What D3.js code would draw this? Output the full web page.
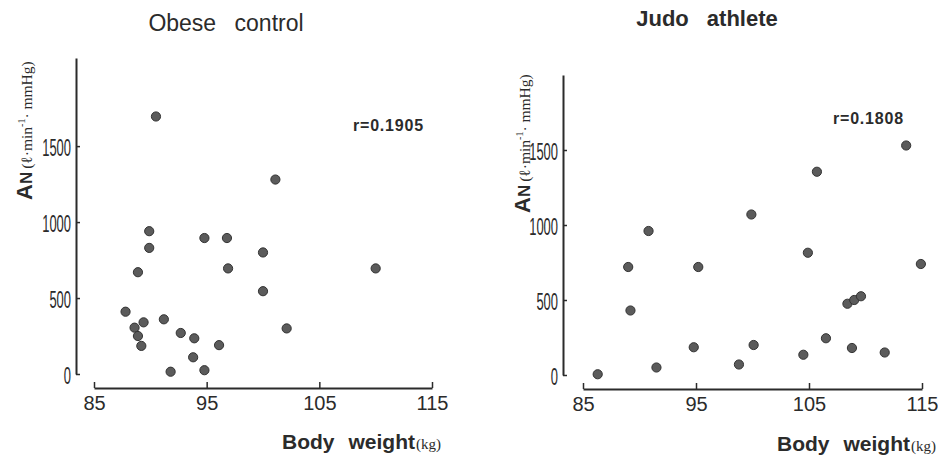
<!DOCTYPE html>
<html>
<head>
<meta charset="utf-8">
<script src="https://cdn.jsdelivr.net/npm/d3@7"></script>
<style>
  body { margin: 0; background: #fff; }
  svg { display: block; }
</style>
</head>
<body>
<svg id="chart" width="938" height="455"></svg>
<script>
// body weight (kg) and AN values
const obeseWeight = [90.5, 101.1, 89.9, 89.9, 94.8, 96.8, 88.9, 96.9, 100.0, 110.0, 100.0, 87.8,
                     89.4, 88.6, 91.2, 102.1, 88.9, 92.7, 93.9, 89.2, 96.1, 93.8, 91.8, 94.8];
const obeseAN = [1695, 1280, 940, 830, 895, 895, 670, 695, 800, 695, 545, 410,
                 340, 305, 360, 300, 250, 270, 235, 185, 190, 110, 15, 25];
const judoWeight = [113.6, 105.7, 99.9, 90.8, 89.0, 95.2, 104.9, 114.9, 89.2, 108.4, 109.0,
                    109.6, 86.3, 91.5, 94.8, 98.8, 100.1, 104.5, 106.5, 108.8, 111.7];
const judoAN = [1530, 1355, 1070, 960, 720, 720, 815, 740, 430, 475, 500,
                525, 5, 50, 185, 70, 200, 135, 245, 180, 150];
const xTicks = [85, 95, 105, 115];
const yTicks = [0, 500, 1000, 1500];

const svg = d3.select("#chart");
const ink = "#2b2b2b";

function drawPanel(p) {
    const g = svg.append("g");

    const x = d3.scaleLinear().domain([85, 115]).range([p.x0, p.x1]);
    const y = d3.scaleLinear().domain([0, p.yTop]).range([p.yZero, p.yAxisTop]);

    // y axis, ticks pointing inward
    const yAxis = g.append("g")
        .attr("transform", `translate(${p.yAxisX},0)`)
        .call(d3.axisLeft(y).tickValues(yTicks).tickFormat(d3.format("d"))
            .tickSizeInner(-4).tickSizeOuter(0).tickPadding(5));
    yAxis.select(".domain").attr("stroke", ink).attr("stroke-width", 2);
    yAxis.selectAll(".tick line").attr("stroke", ink).attr("stroke-width", 1.5);
    yAxis.selectAll(".tick text")
        .attr("font-family", "Liberation Sans, Arial, sans-serif")
        .attr("font-size", 23)
        .attr("fill", ink)
        .attr("dy", "0.4em")
        .attr("textLength", d => String(d).length * 7.2)
        .attr("lengthAdjust", "spacingAndGlyphs");

    // x axis, detached below, ticks pointing up
    const xAxis = g.append("g")
        .attr("transform", `translate(0,${p.xAxisY})`)
        .call(d3.axisBottom(x).tickValues(xTicks).tickSizeInner(-6).tickSizeOuter(0).tickPadding(8));
    xAxis.select(".domain").attr("stroke", ink).attr("stroke-width", 2);
    xAxis.selectAll(".tick line").attr("stroke", ink).attr("stroke-width", 1.5);
    xAxis.selectAll(".tick text")
        .attr("font-family", "Liberation Sans, Arial, sans-serif")
        .attr("font-size", 20)
        .attr("fill", ink);

    g.append("g")
      .selectAll("circle")
      .data(p.weight.map((w, i) => [w, p.an[i]]))
      .join("circle")
        .attr("cx", d => x(d[0]))
        .attr("cy", d => y(d[1]))
        .attr("r", 4.6)
        .attr("fill", "#5b5b5b")
        .attr("stroke", "#333")
        .attr("stroke-width", 1);

    // title
    g.append("text")
        .attr("x", p.titleX)
        .attr("y", p.titleY)
        .attr("text-anchor", "middle")
        .attr("font-family", "Liberation Sans, Arial, sans-serif")
        .attr("font-size", p.titleSize)
        .attr("font-weight", p.titleWeight)
        .attr("word-spacing", p.titleGap)
        .attr("fill", ink)
        .text(p.title);

    // correlation
    g.append("text")
        .attr("x", p.rX)
        .attr("y", p.rY)
        .attr("font-family", "Liberation Sans, Arial, sans-serif")
        .attr("font-size", 16)
        .attr("font-weight", "bold")
        .attr("letter-spacing", 0.8)
        .attr("fill", ink)
        .text(p.r);

    // x label
    const xl = g.append("text")
        .attr("x", p.xLabelX)
        .attr("y", p.xLabelY)
        .attr("font-family", "Liberation Sans, Arial, sans-serif")
        .attr("font-size", 21)
        .attr("font-weight", "bold")
        .attr("fill", ink);
    xl.append("tspan").text("Body");
    xl.append("tspan").attr("dx", 14).text("weight");
    xl.append("tspan")
        .attr("font-family", "Liberation Serif, DejaVu Serif, serif")
        .attr("font-weight", "normal")
        .attr("font-size", 15)
        .attr("dx", 1)
        .text("(kg)");

    // y label, rotated
    const yl = g.append("text")
        .attr("transform", `translate(${p.yLabelX},${p.yLabelY}) rotate(-90)`)
        .attr("font-family", "Liberation Sans, Arial, sans-serif")
        .attr("font-weight", "bold")
        .attr("fill", ink);
    yl.append("tspan").attr("font-size", 22).text("A");
    yl.append("tspan").attr("font-size", 17).text("N");
    const unit = yl.append("tspan")
        .attr("font-family", "Liberation Serif, DejaVu Serif, serif")
        .attr("font-weight", "normal")
        .attr("font-size", 15.5)
        .attr("dx", 3);
    unit.append("tspan").text("(ℓ·min");
    unit.append("tspan").attr("font-size", 10).attr("dy", -7).text("-1");
    unit.append("tspan").attr("dy", 7).text("· mmHg)");
}

drawPanel({
    weight: obeseWeight, an: obeseAN,
    x0: 94, x1: 432, xAxisY: 388,
    yAxisX: 76, yZero: 374, yAxisTop: 58, yTop: 2080,
    title: "Obese control", titleX: 226, titleY: 31, titleSize: 23, titleWeight: "normal", titleGap: 12,
    r: "r=0.1905", rX: 353, rY: 131,
    xLabelX: 282, xLabelY: 449,
    yLabelX: 32, yLabelY: 200
});

drawPanel({
    weight: judoWeight, an: judoAN,
    x0: 583, x1: 922, xAxisY: 389,
    yAxisX: 563, yZero: 375, yAxisTop: 75, yTop: 2000,
    title: "Judo athlete", titleX: 707, titleY: 26, titleSize: 22, titleWeight: "bold", titleGap: 12,
    r: "r=0.1808", rX: 833, rY: 124,
    xLabelX: 777, xLabelY: 451,
    yLabelX: 530, yLabelY: 213
});
</script>
</body>
</html>
